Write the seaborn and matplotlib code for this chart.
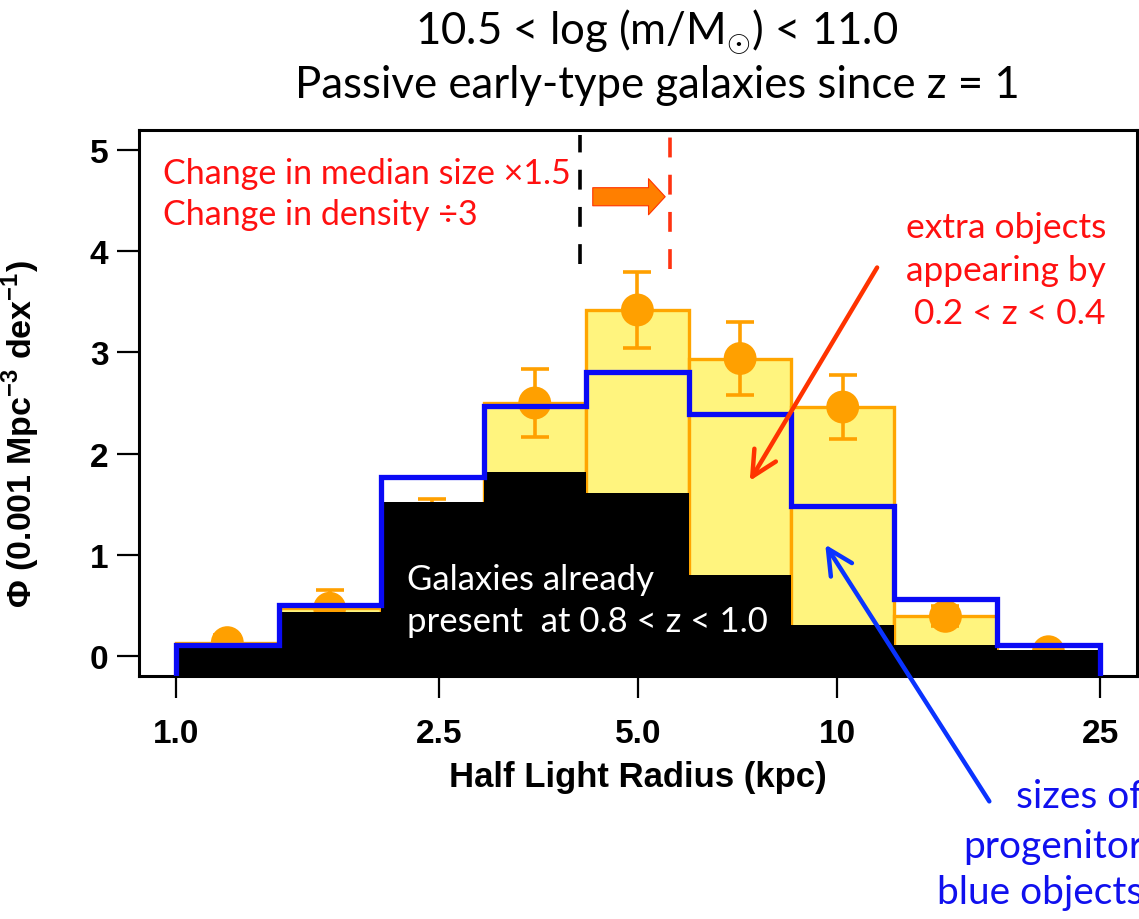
import numpy as np
import matplotlib
matplotlib.use("Agg")
import matplotlib.pyplot as plt
from matplotlib.patches import FancyArrowPatch
import seaborn as sns

# Half-light radius bins (kpc), logarithmic
bin_edges = [1.0, 1.43, 2.04, 2.92, 4.17, 5.97, 8.53, 12.2, 17.45, 25.0]

# Number densities (0.001 Mpc^-3 dex^-1)
phi_late = [0.13, 0.47, 1.35, 2.50, 3.42, 2.94, 2.46, 0.39, 0.04]      # 0.2 < z < 0.4
phi_late_err = [0.08, 0.18, 0.20, 0.34, 0.38, 0.36, 0.32, 0.10, 0.04]
phi_early = [0.09, 0.43, 1.52, 1.82, 1.61, 0.80, 0.30, 0.11, 0.06]     # 0.8 < z < 1.0
phi_progenitor = [0.11, 0.50, 1.77, 2.47, 2.81, 2.39, 1.48, 0.56, 0.11]

# Median sizes (kpc)
median_early = 4.09
median_late = 5.59

x_ticks = [1.0, 2.5, 5.0, 10, 25]
x_tick_labels = ["1.0", "2.5", "5.0", "10", "25"]
y_ticks = [0, 1, 2, 3, 4, 5]

W, H = 1139, 920
sns.set_theme(style="ticks")
plt.rcParams["font.family"] = ["Liberation Sans", "DejaVu Sans"]
plt.rcParams["mathtext.fontset"] = "custom"
plt.rcParams["mathtext.rm"] = "Lato"
plt.rcParams["mathtext.bf"] = "Liberation Sans:bold"
plt.rcParams["axes.labelcolor"] = "black"

fig = plt.figure(figsize=(W / 100, H / 100), dpi=100)
ax = fig.add_axes([139 / W, 1 - 677 / H, (1137 - 139) / W, (677 - 131) / H])

ax.set_xscale("log")
lx0, lx1 = np.log10(bin_edges[0]), np.log10(bin_edges[-1])
pad = 0.04 * (lx1 - lx0)
ax.set_xlim(10 ** (lx0 - pad), 10 ** (lx1 + pad))
y_lo, y_hi = -0.2, 5.2
ax.set_ylim(y_lo, y_hi)

edges = np.array(bin_edges)
lefts = edges[:-1]
widths = np.diff(edges)
centers = np.sqrt(edges[:-1] * edges[1:])

late = np.array(phi_late)
early = np.array(phi_early)

# Bars start at the bottom of the plotting region
ax.bar(lefts, late - y_lo, width=widths, bottom=y_lo, align="edge",
       color="#FFF47E", edgecolor="#FFA500", linewidth=2.4, zorder=2)

ax.errorbar(centers, phi_late, yerr=phi_late_err, fmt="none",
            ecolor="#FFA000", elinewidth=2.6, capsize=10, capthick=2.6, zorder=3)
sns.scatterplot(x=centers, y=phi_late, ax=ax, s=560, color="#FFA000",
                edgecolor="none", linewidth=0, zorder=3, legend=False)

ax.bar(lefts, early - y_lo, width=widths, bottom=y_lo, align="edge",
       color="black", edgecolor="none", linewidth=0, zorder=4)

ax.stairs(phi_progenitor, edges, baseline=y_lo, color="#0A0AF5",
          linewidth=3.8, zorder=5)

# Median size markers
ax.vlines(median_early, 3.87, 5.15, colors="black", linewidth=2.6,
          linestyles=(0, (5.5, 4.8)), zorder=6)
ax.vlines(median_late, 3.83, 5.15, colors="#FF3311", linewidth=2.6,
          linestyles=(0, (5.5, 4.8)), zorder=6)
shift = FancyArrowPatch((4.23, 4.54), (5.55, 4.54),
                        arrowstyle="simple,head_width=26,head_length=12,tail_width=13",
                        mutation_scale=1, facecolor="#FF7F00", edgecolor="#FF3300",
                        linewidth=0.8, zorder=7)
ax.add_patch(shift)

# Annotation arrows
ax.annotate("", xy=(7.38, 1.73), xytext=(11.5, 3.84),
            arrowprops=dict(arrowstyle="->,head_length=0.9,head_width=0.45",
                            color="#FF3300", lw=3.2, mutation_scale=20,
                            shrinkA=0, shrinkB=0), zorder=8)
ax.annotate("", xy=(9.6, 1.10), xytext=(17.0, -1.44),
            arrowprops=dict(arrowstyle="->,head_length=0.9,head_width=0.45",
                            color="#0A33FF", lw=3.2, mutation_scale=20,
                            shrinkA=0, shrinkB=0),
            annotation_clip=False, zorder=8)

# Axes styling
for s in ax.spines.values():
    s.set_linewidth(2.2)
    s.set_color("black")
ax.set_xticks(x_ticks)
ax.set_xticklabels(x_tick_labels)
ax.xaxis.set_minor_locator(matplotlib.ticker.NullLocator())
ax.set_yticks(y_ticks)
ax.tick_params(axis="both", direction="out", length=16, width=1.6,
               labelsize=24, colors="black")
ax.tick_params(axis="x", pad=14)
ax.tick_params(axis="y", pad=6)
for lab in ax.get_xticklabels() + ax.get_yticklabels():
    lab.set_fontweight("bold")

ax.set_xlabel("Half Light Radius (kpc)", fontsize=25, fontweight="bold",
              labelpad=8, color="black")
ax.set_ylabel("\u03a6 (0.001 Mpc$^{\\mathbf{-3}}$ dex$^{\\mathbf{-1}}$)",
              fontsize=24.5, fontweight="bold", color="black")
ax.yaxis.set_label_coords(-0.097, (677 - 434) / (677 - 131))

def fx(px):
    return px / W

def fy(py):
    return 1 - py / H

sans = ["Lato", "DejaVu Sans"]

# Title
fig.text(fx(657), fy(32), r"10.5 < log (m/M$_{\odot}$) < 11.0", ha="center",
         va="center", fontsize=31.5, family=sans, color="black")
fig.text(fx(657), fy(85), "Passive early-type galaxies since z = 1", ha="center",
         va="center", fontsize=31.5, family=sans, color="black")

red = "#FF1010"
fig.text(fx(163), fy(174), "Change in median size \u00d71.5", ha="left", va="center",
         fontsize=24.5, family=sans, color=red, zorder=9)
fig.text(fx(163), fy(215), "Change in density \u00f73", ha="left", va="center",
         fontsize=24.5, family=sans, color=red, zorder=9)

for txt, py in [("extra objects", 228), ("appearing by", 271), ("0.2 < z < 0.4", 314)]:
    fig.text(fx(1106), fy(py), txt, ha="right", va="center", fontsize=25.5,
             family=sans, color=red, zorder=9)

fig.text(fx(407), fy(580), "Galaxies already", ha="left", va="center",
         fontsize=25, family=sans, color="white", zorder=9)
fig.text(fx(407), fy(622), "present  at 0.8 < z < 1.0", ha="left", va="center",
         fontsize=25, family=sans, color="white", zorder=9)

for txt, py in [("sizes of", 797), ("progenitor", 847), ("blue objects", 893)]:
    fig.text(fx(1143), fy(py), txt, ha="right", va="center", fontsize=28,
             family=sans, color="#1010EE", zorder=9)

fig.savefig("out.png", dpi=100)
